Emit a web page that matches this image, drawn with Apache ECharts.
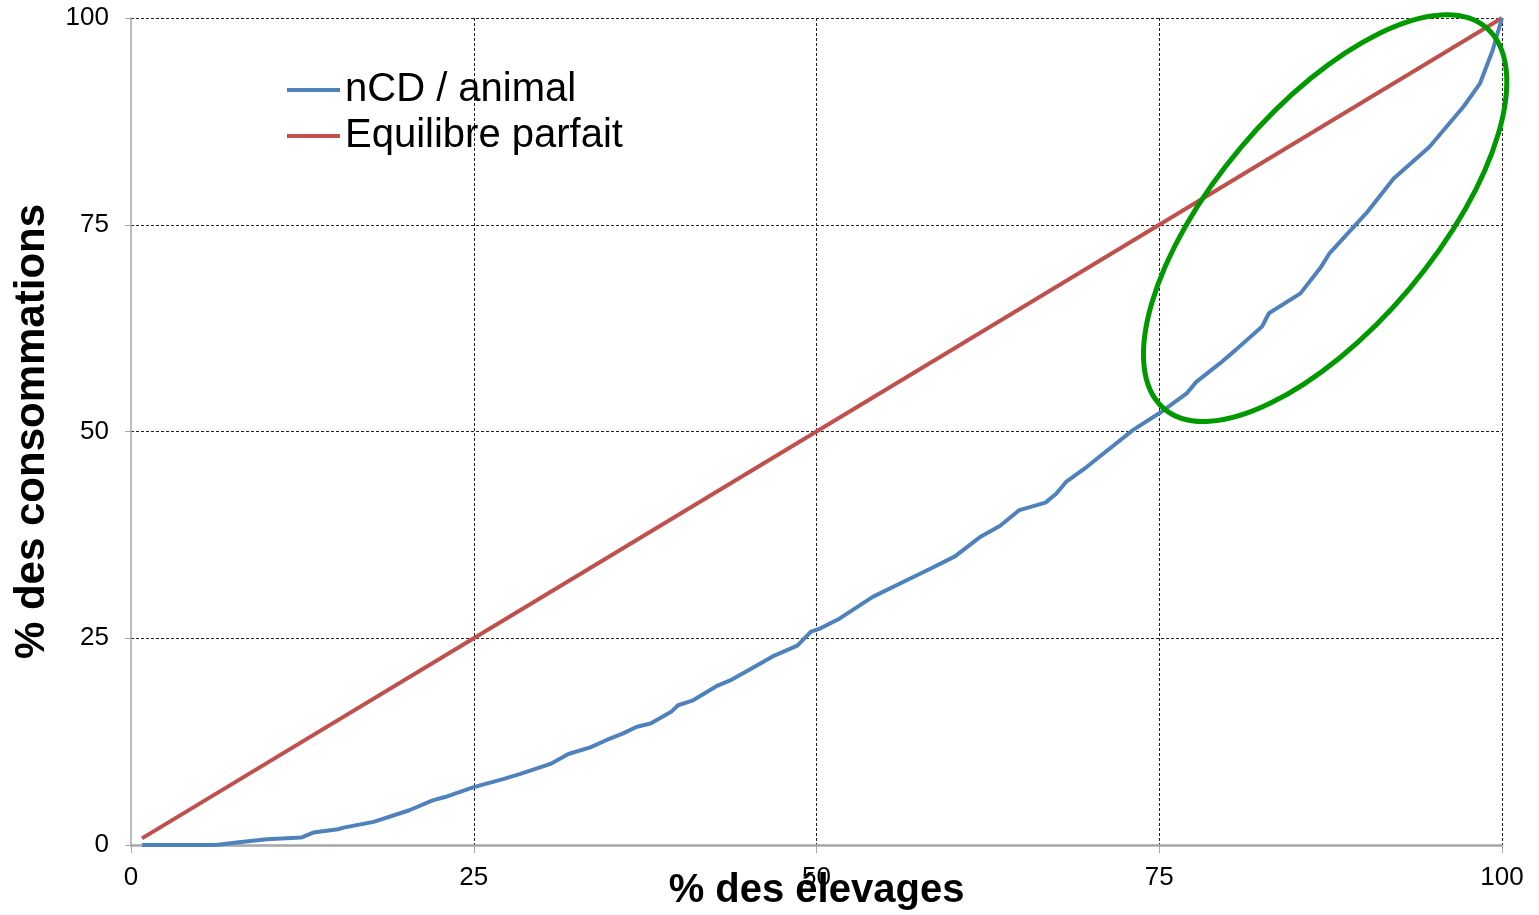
<!DOCTYPE html>
<html>
<head>
<meta charset="utf-8">
<script src="https://cdn.jsdelivr.net/npm/echarts@6/dist/echarts.min.js"></script>
<style>html,body{margin:0;padding:0;background:#fff}#c{width:1539px;height:915px}</style>
</head>
<body>
<div id="c"></div>
<script>
const xTicks = [0, 25, 50, 75, 100];
const yTicks = [0, 25, 50, 75, 100];
const seriesNames = ['nCD / animal', 'Equilibre parfait'];
const ncdAnimal = [
  [0.8,0],[3,0],[6.2,0],[7.7,0.3],[9.9,0.7],[12.4,0.9],[13.3,1.5],[15.1,1.9],[15.5,2.1],
  [17.7,2.8],[20.3,4.2],[22,5.4],[22.9,5.8],[25,7],[27.2,8],[28.4,8.6],[30.6,9.8],[31.9,11],
  [33.5,11.8],[34.7,12.7],[35.9,13.5],[36.9,14.3],[37.9,14.7],[39.4,16.1],[39.9,16.9],[41,17.5],
  [42.7,19.2],[43.7,19.9],[45.1,21.2],[46.8,22.8],[48.6,24.1],[49.6,25.8],[50.3,26.2],[51.7,27.4],
  [54.1,30],[56.8,32.2],[58.3,33.4],[60.1,34.9],[61.9,37.2],[63.4,38.6],[64.8,40.5],[66.7,41.4],
  [67.5,42.5],[68.2,43.9],[69.7,45.7],[73.1,50.2],[75,52.2],[77,54.6],[77.7,56],[79.4,58.2],
  [80.6,59.9],[82.5,62.7],[83,64.3],[85.3,66.7],[86.8,69.9],[87.4,71.5],[90.1,76.4],[92.1,80.6],
  [94.7,84.4],[97.2,89.3],[98.4,92.1],[99.3,96],[100,100]
];
const equilibreParfait = [[0.8,0.8],[25,25],[50,50],[75,75],[100,100]];
// centre of the highlighted zone (data coordinates)
const highlightCenter = [[87.1, 75.8]];

const FONT = '"Liberation Sans", Arial, sans-serif';
const chart = echarts.init(document.getElementById('c'), null, {renderer: 'canvas'});
chart.setOption({
  animation: false,
  backgroundColor: '#fff',
  grid: {left: 131, right: 37, top: 18, bottom: 70, containLabel: false, outerBoundsMode: 'none'},
  legend: {
    data: seriesNames,
    orient: 'vertical',
    left: 282, top: 64,
    icon: 'rect', itemWidth: 53, itemHeight: 4, itemGap: 4,
    textStyle: {fontFamily: FONT, fontSize: 40, color: '#000', lineHeight: 42}
  },
  xAxis: {
    type: 'value', min: xTicks[0], max: xTicks[xTicks.length-1], interval: 25,
    name: '% des élevages', nameLocation: 'middle', nameGap: 26, nameMoveOverlap: false,
    nameTextStyle: {fontFamily: FONT, fontSize: 40, fontWeight: 'bold', color: '#000'},
    axisLine: {lineStyle: {color: '#a6a6a6', width: 2.5}},
    axisTick: {show: true, length: 8, lineStyle: {color: '#a6a6a6', width: 1}},
    axisLabel: {fontFamily: FONT, fontSize: 26, color: '#000', margin: 20},
    splitLine: {show: true, showMinLine: false, lineStyle: {color: '#222', type: [3, 2], width: 1}}
  },
  yAxis: {
    type: 'value', min: yTicks[0], max: yTicks[yTicks.length-1], interval: 25,
    name: '% des consommations', nameLocation: 'middle', nameGap: 78, nameMoveOverlap: false,
    nameTextStyle: {fontFamily: FONT, fontSize: 42, fontWeight: 'bold', color: '#000'},
    axisLine: {show: true, lineStyle: {color: '#a6a6a6', width: 1.5}},
    axisTick: {show: true, length: 6, lineStyle: {color: '#a6a6a6', width: 1}},
    axisLabel: {fontFamily: FONT, fontSize: 26, color: '#000', margin: 22},
    splitLine: {show: true, showMinLine: false, lineStyle: {color: '#222', type: [3, 2], width: 1}}
  },
  series: [
    {
      name: seriesNames[1], type: 'line', data: equilibreParfait, showSymbol: false,
      lineStyle: {color: '#c0504d', width: 4}, itemStyle: {color: '#c0504d'}, z: 3
    },
    {
      name: seriesNames[0], type: 'line', data: ncdAnimal, showSymbol: false,
      lineStyle: {color: '#4f81bd', width: 4}, itemStyle: {color: '#4f81bd'}, z: 4
    },
    {
      type: 'custom', data: highlightCenter, clip: false, z: 5, silent: true,
      renderItem: function (params, api) {
        const p = api.coord([api.value(0), api.value(1)]);
        const s = api.size([1, 1]);
        return {
          type: 'ellipse',
          x: p[0], y: p[1], rotation: 49.8 * Math.PI / 180,
          shape: {cx: 0, cy: 0, rx: 18.2 * s[0], ry: 8.02 * s[0]},
          style: {fill: null, stroke: '#009900', lineWidth: 5}
        };
      }
    }
  ]
});
</script>
</body>
</html>
